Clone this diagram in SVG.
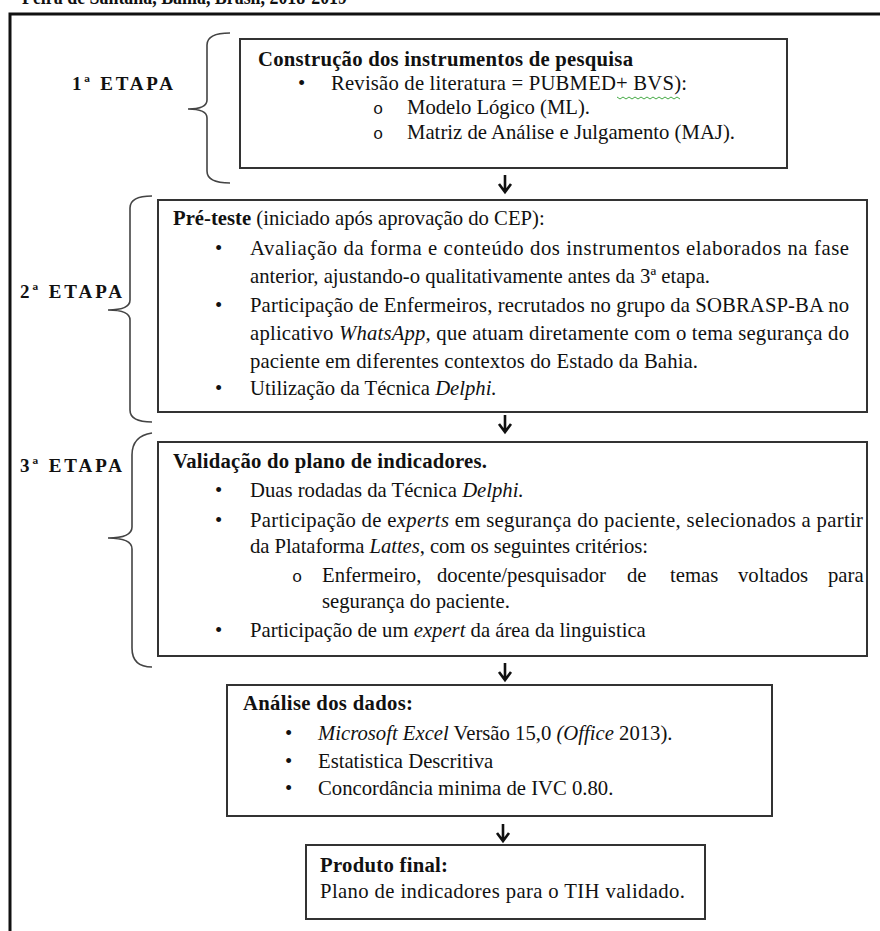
<svg xmlns="http://www.w3.org/2000/svg" width="880" height="931" viewBox="0 0 880 931">
<style>
text { font-family: "Liberation Serif", "Times New Roman", serif; fill: #111; font-size: 20.7px; }
.b { font-weight: bold; }
.i { font-style: italic; }
.box { fill: #fff; stroke: #333; stroke-width: 2; }
.brace { fill: none; stroke: #444; stroke-width: 1.6; }
.arrow { fill: none; stroke: #111; stroke-width: 2.6; }
.frame { fill: none; stroke: #111; stroke-width: 3; }
.lbl { font-size: 19px; font-weight: bold; }
.sub { font-family: "Liberation Mono", "Courier New", monospace; font-size: 17px; }
.wavy { fill: none; stroke: #4a4; stroke-width: 1; }
</style>
<rect width="880" height="931" fill="#fff"/>
<text x="22" y="4" class="b" font-size="18" textLength="325" lengthAdjust="spacingAndGlyphs">Feira de Santana, Bahia, Brasil, 2018-2019</text>
<path class="frame" d="M10,931 V14 H880"/>

<g id="labels">
<text x="72" y="90" class="lbl" textLength="101">1ª ETAPA</text>
<text x="20" y="298" class="lbl" textLength="102">2ª ETAPA</text>
<text x="20" y="472" class="lbl" textLength="102">3ª ETAPA</text>
</g>

<g id="braces">
<path class="brace" d="M230,33 Q207,33 207,45 V100 Q207,109 188,109 Q207,109 207,118 V171 Q207,183 230,183"/>
<path class="brace" d="M152,196 Q130,196 130,208 V300 Q130,310 108,310 Q130,310 130,320 V410 Q130,422 152,422"/>
<path class="brace" d="M152,433 Q132,436 132,455 V527 Q132,538 108,538 Q132,538 132,549 V648 Q132,667 152,667"/>
</g>

<g id="connectors">
<path class="arrow" d="M505,175 V192 M499,184 L505,192 L511,184"/>
<path class="arrow" d="M505,415 V432 M499,424 L505,432 L511,424"/>
<path class="arrow" d="M505,663 V680 M499,672 L505,680 L511,672"/>
<path class="arrow" d="M503,824 V841 M497,833 L503,841 L509,833"/>
</g>

<g id="node1">
<rect class="box" x="240" y="39" width="547" height="129"/>
<text x="258" y="66" class="b" textLength="375">Construção dos instrumentos de pesquisa</text>
<text x="298" y="90">•</text>
<text x="331" y="90" textLength="356">Revisão de literatura = PUBMED+ BVS):</text>
<path class="wavy" d="M617,97 l3,2 l3,-2 l3,2 l3,-2 l3,2 l3,-2 l3,2 l3,-2 l3,2 l3,-2 l3,2 l3,-2 l3,2 l3,-2 l3,2 l3,-2 l3,2 l3,-2 l3,2 l3,-2 l3,2"/>
<text x="373" y="114" class="sub">o</text>
<text x="407" y="114" textLength="183">Modelo Lógico (ML).</text>
<text x="373" y="139" class="sub">o</text>
<text x="407" y="139" textLength="328">Matriz de Análise e Julgamento (MAJ).</text>
</g>

<g id="node2">
<rect class="box" x="158" y="200" width="709" height="212"/>
<text x="173" y="225"><tspan class="b">Pré-teste</tspan> (iniciado após aprovação do CEP):</text>
<text x="215" y="255">•</text>
<text x="250" y="255" textLength="599">Avaliação da forma e conteúdo dos instrumentos elaborados na fase</text>
<text x="250" y="283" textLength="460">anterior, ajustando-o qualitativamente antes da 3ª etapa.</text>
<text x="215" y="312">•</text>
<text x="250" y="312" textLength="599">Participação de Enfermeiros, recrutados no grupo da SOBRASP-BA no</text>
<text x="250" y="340" textLength="599">aplicativo <tspan class="i">WhatsApp,</tspan> que atuam diretamente com o tema segurança do</text>
<text x="250" y="368" textLength="448">paciente em diferentes contextos do Estado da Bahia.</text>
<text x="215" y="395">•</text>
<text x="250" y="395">Utilização da Técnica <tspan class="i">Delphi.</tspan></text>
</g>

<g id="node3">
<rect class="box" x="158" y="442" width="709" height="214"/>
<text x="173" y="468" class="b" textLength="314">Validação do plano de indicadores.</text>
<text x="215" y="497">•</text>
<text x="250" y="497">Duas rodadas da Técnica <tspan class="i">Delphi.</tspan></text>
<text x="215" y="527">•</text>
<text x="250" y="527" textLength="613">Participação de e<tspan class="i">xperts</tspan> em segurança do paciente, selecionados a partir</text>
<text x="250" y="553" textLength="398">da Plataforma <tspan class="i">Lattes</tspan>, com os seguintes critérios:</text>
<text x="292" y="582" class="sub">o</text>
<text y="582"><tspan x="322">Enfermeiro,</tspan><tspan x="437">docente/pesquisador</tspan><tspan x="627">de</tspan><tspan x="670">temas</tspan><tspan x="738">voltados</tspan><tspan x="828">para</tspan></text>
<text x="322" y="608">segurança do paciente.</text>
<text x="215" y="637">•</text>
<text x="250" y="637">Participação de um <tspan class="i">expert</tspan> da área da linguistica</text>
</g>

<g id="node4">
<rect class="box" x="227" y="685" width="545" height="131"/>
<text x="243" y="710" class="b" textLength="170">Análise dos dados:</text>
<text x="285" y="740">•</text>
<text x="318" y="740"><tspan class="i">Microsoft Excel</tspan> Versão 15,0 <tspan class="i">(Office</tspan> 2013).</text>
<text x="285" y="768">•</text>
<text x="318" y="768">Estatistica Descritiva</text>
<text x="285" y="795">•</text>
<text x="318" y="795">Concordância minima de IVC 0.80.</text>
</g>

<g id="node5">
<rect class="box" x="306" y="845" width="399" height="74"/>
<text x="320" y="872" class="b" textLength="128">Produto final:</text>
<text x="320" y="898" textLength="365">Plano de indicadores  para o TIH validado.</text>
</g>
</svg>
